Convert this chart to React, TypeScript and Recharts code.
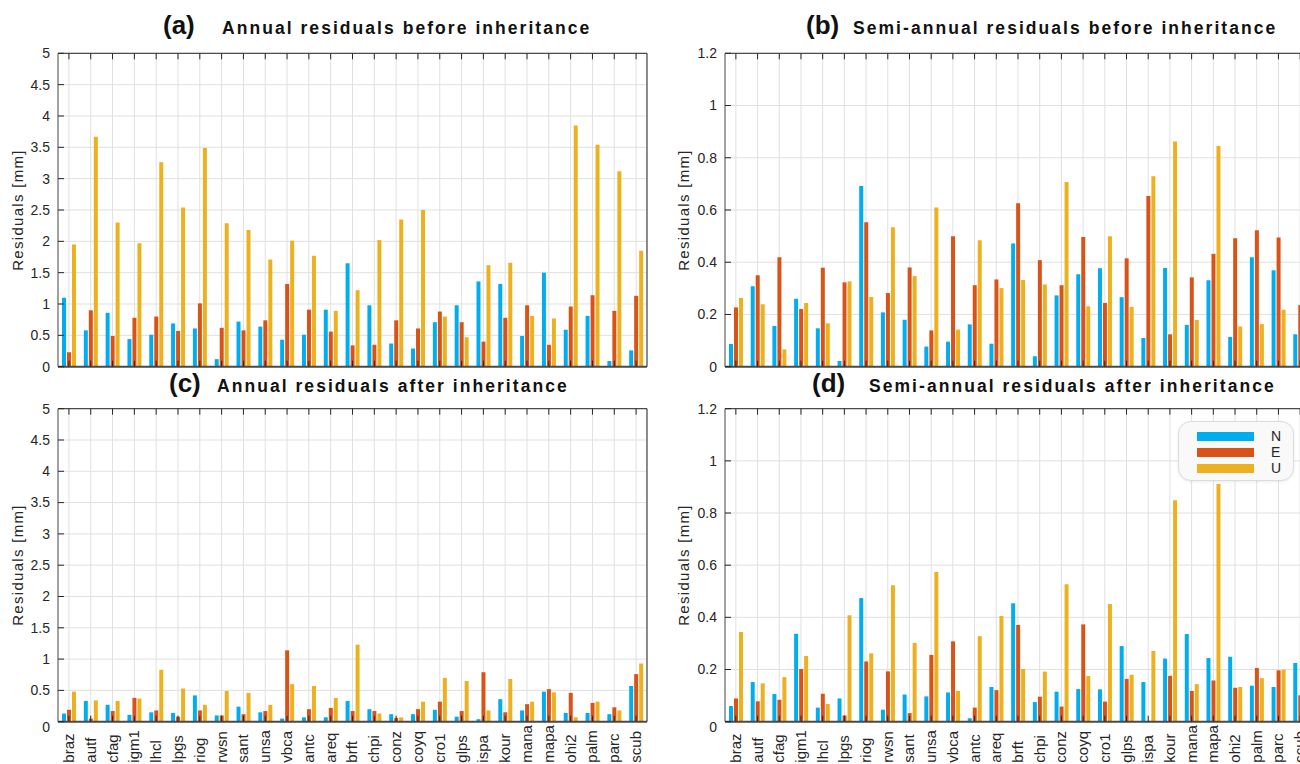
import { BarChart, Bar, XAxis, YAxis, CartesianGrid, Legend } from 'recharts';

const stations = ['braz', 'autf', 'cfag', 'igm1', 'lhcl', 'lpgs', 'riog', 'rwsn', 'sant', 'unsa', 'vbca', 'antc', 'areq', 'brft', 'chpi', 'conz', 'coyq', 'cro1', 'glps', 'ispa', 'kour', 'mana', 'mapa', 'ohi2', 'palm', 'parc', 'scub'];

// (a) annual, before inheritance
const annualBeforeN = [1.10, 0.58, 0.86, 0.44, 0.51, 0.69, 0.61, 0.12, 0.72, 0.64, 0.43, 0.51, 0.91, 1.65, 0.98, 0.37, 0.29, 0.71, 0.98, 1.36, 1.32, 0.49, 1.50, 0.59, 0.81, 0.09, 0.26];
const annualBeforeE = [0.23, 0.90, 0.49, 0.78, 0.80, 0.57, 1.01, 0.62, 0.58, 0.74, 1.32, 0.91, 0.56, 0.34, 0.35, 0.74, 0.61, 0.88, 0.71, 0.40, 0.78, 0.98, 0.35, 0.96, 1.14, 0.89, 1.13];
const annualBeforeU = [1.95, 3.67, 2.30, 1.97, 3.26, 2.54, 3.49, 2.29, 2.18, 1.71, 2.01, 1.77, 0.89, 1.22, 2.02, 2.35, 2.50, 0.80, 0.47, 1.62, 1.66, 0.81, 0.77, 3.85, 3.54, 3.12, 1.85];

// (b) semi-annual, before inheritance
const semiBeforeN = [0.087, 0.308, 0.156, 0.260, 0.147, 0.022, 0.692, 0.208, 0.180, 0.077, 0.096, 0.162, 0.088, 0.472, 0.040, 0.273, 0.354, 0.377, 0.266, 0.110, 0.378, 0.160, 0.331, 0.114, 0.419, 0.369, 0.124];
const semiBeforeE = [0.227, 0.350, 0.419, 0.221, 0.379, 0.323, 0.553, 0.282, 0.380, 0.139, 0.499, 0.312, 0.334, 0.626, 0.408, 0.312, 0.497, 0.244, 0.415, 0.654, 0.124, 0.342, 0.432, 0.492, 0.522, 0.495, 0.236];
const semiBeforeU = [0.263, 0.239, 0.066, 0.244, 0.166, 0.327, 0.267, 0.534, 0.347, 0.610, 0.142, 0.484, 0.301, 0.332, 0.315, 0.707, 0.231, 0.499, 0.229, 0.729, 0.862, 0.179, 0.845, 0.154, 0.163, 0.218, 0.30];

// (c) annual, after inheritance
const annualAfterN = [0.13, 0.33, 0.27, 0.11, 0.15, 0.14, 0.42, 0.10, 0.24, 0.15, 0.05, 0.07, 0.07, 0.33, 0.20, 0.12, 0.12, 0.19, 0.08, 0.04, 0.36, 0.18, 0.48, 0.14, 0.14, 0.12, 0.57];
const annualAfterE = [0.19, 0.05, 0.17, 0.38, 0.18, 0.08, 0.18, 0.10, 0.12, 0.17, 1.14, 0.20, 0.22, 0.17, 0.17, 0.06, 0.20, 0.32, 0.17, 0.79, 0.15, 0.28, 0.52, 0.46, 0.30, 0.23, 0.76];
const annualAfterU = [0.48, 0.34, 0.33, 0.37, 0.83, 0.53, 0.27, 0.49, 0.46, 0.27, 0.60, 0.57, 0.38, 1.23, 0.13, 0.07, 0.32, 0.70, 0.65, 0.18, 0.68, 0.32, 0.47, 0.07, 0.32, 0.18, 0.93];

// (d) semi-annual, after inheritance
const semiAfterN = [0.060, 0.152, 0.106, 0.337, 0.054, 0.089, 0.474, 0.046, 0.104, 0.097, 0.112, 0.013, 0.133, 0.454, 0.075, 0.115, 0.125, 0.124, 0.290, 0.152, 0.242, 0.336, 0.244, 0.249, 0.138, 0.133, 0.225];
const semiAfterE = [0.089, 0.078, 0.084, 0.202, 0.107, 0.024, 0.231, 0.193, 0.033, 0.256, 0.308, 0.054, 0.121, 0.371, 0.096, 0.058, 0.373, 0.077, 0.164, 0.003, 0.176, 0.118, 0.158, 0.130, 0.206, 0.197, 0.101];
const semiAfterU = [0.344, 0.147, 0.171, 0.252, 0.068, 0.408, 0.262, 0.523, 0.302, 0.574, 0.118, 0.328, 0.405, 0.202, 0.192, 0.527, 0.175, 0.451, 0.180, 0.271, 0.849, 0.144, 0.911, 0.133, 0.167, 0.199, 0.20];

const annualTicks = [0, 0.5, 1, 1.5, 2, 2.5, 3, 3.5, 4, 4.5, 5];
const semiTicks = [0, 0.2, 0.4, 0.6, 0.8, 1, 1.2];

const series = [
  { key: 'N', color: '#00aeef' },
  { key: 'E', color: '#d95319' },
  { key: 'U', color: '#edb120' },
];

const FONT = '"Liberation Sans", Arial, Helvetica, sans-serif';
const INK = '#262626';

function buildRows(n: number[], e: number[], u: number[]) {
  return stations.map((station, i) => ({ station, N: n[i], E: e[i], U: u[i] }));
}

type PanelProps = {
  left: number;
  top: number;
  axisW: number;
  plotTop: number;
  plotW: number;
  plotH: number;
  rows: { station: string; N: number; E: number; U: number }[];
  domainMax: number;
  ticks: number[];
  labels: boolean;
  legend?: boolean;
};

function BottomTick({ x, y, payload, labels }: any) {
  return (
    <g>
      <line x1={x} x2={x} y1={y} y2={y - 6} stroke={INK} strokeWidth={1} />
      {labels && (
        <text
          transform={`translate(${x + 5},${y + 41}) rotate(-90)`}
          textAnchor="start"
          fontSize={15}
          fill={INK}
          fontFamily={FONT}
        >
          {payload.value}
        </text>
      )}
    </g>
  );
}

function TopTick({ x, y }: any) {
  return <line x1={x} x2={x} y1={y} y2={y + 6} stroke={INK} strokeWidth={1} />;
}

function LeftTick({ x, y, payload, labels }: any) {
  const shift = labels && payload.value === 0 ? 5 : 0;
  return (
    <g>
      <line x1={x} x2={x + 6} y1={y} y2={y} stroke={INK} strokeWidth={1} />
      <text x={x - 8} y={y + shift} dy="0.35em" textAnchor="end" fontSize={14} fill={INK} fontFamily={FONT}>
        {String(payload.value)}
      </text>
    </g>
  );
}

function RightTick({ x, y }: any) {
  return <line x1={x} x2={x - 6} y1={y} y2={y} stroke={INK} strokeWidth={1} />;
}

function LegendBox() {
  return (
    <div
      style={{
        width: 114,
        height: 58,
        background: '#f9f9f9',
        border: '1px solid #dcdcdc',
        borderRadius: 13,
        boxShadow: '0 1px 3px rgba(0,0,0,0.08)',
        position: 'relative',
        fontFamily: FONT,
      }}
    >
      {series.map((s, i) => (
        <div key={s.key} style={{ position: 'absolute', left: 18, top: 10 + i * 16, height: 9, width: 57, background: s.color }} />
      ))}
      {series.map((s, i) => (
        <div key={s.key + 't'} style={{ position: 'absolute', left: 92, top: 5 + i * 16, fontSize: 14, lineHeight: '18px', color: INK }}>
          {s.key}
        </div>
      ))}
    </div>
  );
}

function Panel({ left, top, axisW, plotTop, plotW, plotH, rows, domainMax, ticks, labels, legend }: PanelProps) {
  const bottomH = labels ? 50 : 1;
  const marginBottom = labels ? 4 : 14;
  const marginTop = plotTop - top - 1;
  const width = axisW + plotW + 1 + 4;
  const height = marginTop + 1 + plotH + bottomH + marginBottom;
  return (
    <div style={{ position: 'absolute', left, top }}>
      <BarChart
        width={width}
        height={height}
        data={rows}
        margin={{ top: marginTop, right: 4, left: 0, bottom: marginBottom }}
        barSize={4}
        barGap={1}
      >
        <CartesianGrid stroke="#e0e0e0" strokeWidth={1} />
        {series.map((s) => (
          <Bar key={s.key} dataKey={s.key} fill={s.color} isAnimationActive={false} />
        ))}
        <XAxis
          dataKey="station"
          interval={0}
          height={bottomH}
          tickSize={0}
          tickMargin={0}
          axisLine={{ stroke: '#4a4a4a', strokeWidth: 2 }}
          tickLine={false}
          tick={(p: any) => <BottomTick {...p} labels={labels} />}
        />
        <XAxis
          xAxisId="top"
          orientation="top"
          dataKey="station"
          interval={0}
          height={1}
          tickSize={0}
          tickMargin={0}
          axisLine={{ stroke: INK, strokeWidth: 1 }}
          tickLine={false}
          tick={(p: any) => <TopTick {...p} />}
        />
        <YAxis
          width={axisW}
          domain={[0, domainMax]}
          ticks={ticks}
          interval={0}
          tickSize={0}
          tickMargin={0}
          axisLine={{ stroke: '#555', strokeWidth: 1 }}
          tickLine={false}
          tick={(p: any) => <LeftTick {...p} labels={labels} />}
        />
        <YAxis
          yAxisId="r"
          orientation="right"
          width={1}
          domain={[0, domainMax]}
          ticks={ticks}
          interval={0}
          tickSize={0}
          tickMargin={0}
          axisLine={{ stroke: INK, strokeWidth: 1 }}
          tickLine={false}
          tick={(p: any) => <RightTick {...p} />}
        />
        {legend && (
          <Legend
            layout="vertical"
            align="center"
            verticalAlign="middle"
            content={() => <LegendBox />}
            wrapperStyle={{ position: 'absolute', left: 528, top: 61, width: 116, height: 60 }}
          />
        )}
      </BarChart>
    </div>
  );
}

function Title({ x0, x1, y, tag, text }: { x0: number; x1: number; y: number; tag: string; text: string }) {
  return (
    <g fontFamily={FONT} fontWeight="bold" fill="#111">
      <text x={x0} y={y} fontSize={26}>{tag}</text>
      <text x={x1} y={y} fontSize={17.5} letterSpacing={2.05}>{text}</text>
    </g>
  );
}

function YLabel({ x, y }: { x: number; y: number }) {
  return (
    <text
      transform={`translate(${x},${y}) rotate(-90)`}
      textAnchor="middle"
      fontSize={15}
      letterSpacing={1.3}
      fill={INK}
      fontFamily={FONT}
    >
      Residuals [mm]
    </text>
  );
}

export default function App() {
  const plotH = 313.4;
  return (
    <div
      style={{
        position: 'fixed',
        left: 0,
        top: 0,
        width: 1300,
        height: 764,
        overflow: 'hidden',
        background: '#fff',
        fontFamily: FONT,
      }}
    >
      <Panel left={0} top={0} axisW={58} plotTop={53.3} plotW={589} plotH={plotH}
        rows={buildRows(annualBeforeN, annualBeforeE, annualBeforeU)} domainMax={5} ticks={annualTicks} labels={false} />
      <Panel left={650} top={0} axisW={75} plotTop={53.3} plotW={586} plotH={plotH}
        rows={buildRows(semiBeforeN, semiBeforeE, semiBeforeU)} domainMax={1.2} ticks={semiTicks} labels={false} />
      <Panel left={0} top={360} axisW={58} plotTop={408.7} plotW={589} plotH={313}
        rows={buildRows(annualAfterN, annualAfterE, annualAfterU)} domainMax={5} ticks={annualTicks} labels />
      <Panel left={650} top={360} axisW={75} plotTop={408.7} plotW={586} plotH={313}
        rows={buildRows(semiAfterN, semiAfterE, semiAfterU)} domainMax={1.2} ticks={semiTicks} labels legend />
      <svg width={1300} height={764} style={{ position: 'absolute', left: 0, top: 0, pointerEvents: 'none' }}>
        <Title x0={163} x1={222} y={33.5} tag="(a)" text="Annual residuals before inheritance" />
        <Title x0={806} x1={853} y={33.5} tag="(b)" text="Semi-annual residuals before inheritance" />
        <Title x0={169} x1={217} y={391.5} tag="(c)" text="Annual residuals after inheritance" />
        <Title x0={812} x1={869} y={391.5} tag="(d)" text="Semi-annual residuals after inheritance" />
        <YLabel x={23} y={210} />
        <YLabel x={689} y={210} />
        <YLabel x={23} y={565} />
        <YLabel x={689} y={565} />
      </svg>
    </div>
  );
}
